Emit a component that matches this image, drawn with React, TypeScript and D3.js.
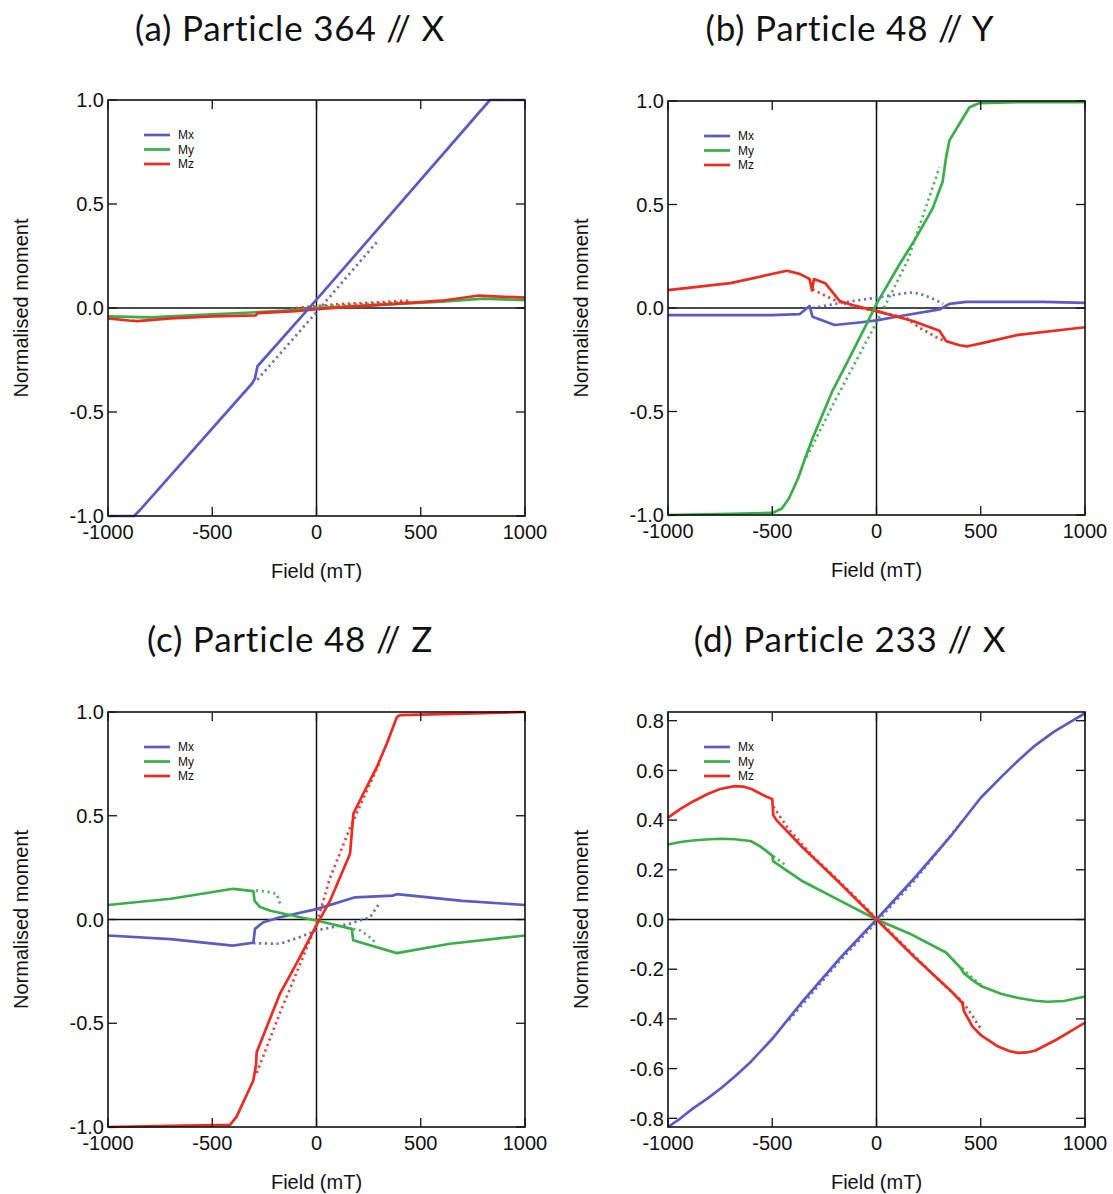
import React from "react";
import * as d3 from "d3";

type Pt = [number, number];

// ---------- tick values & labels ----------
const X_TICKS = [-1000, -500, 0, 500, 1000];
const Y_TICKS_UNIT = [-1, -0.5, 0, 0.5, 1];
const Y_TICKS_D = [-0.8, -0.6, -0.4, -0.2, 0, 0.2, 0.4, 0.6, 0.8];
const TITLES = ["(a) Particle 364 // X", "(b) Particle 48 // Y", "(c) Particle 48 // Z", "(d) Particle 233 // X"];
const LEGEND = ["Mx", "My", "Mz"];
const X_LABEL = "Field (mT)";
const Y_LABEL = "Normalised moment";

// ---------- (a) Particle 364 // X ----------
const aMx: Pt[] = [[-1000, -1], [-875, -1], [-850, -0.975], [-309, -0.363], [-296, -0.34], [-283, -0.28], [0, 0.04], [832, 1.0], [1000, 1.0]];
const aMxDot: Pt[] = [[-284, -0.345], [0, -0.02], [292, 0.32]];
const aMy: Pt[] = [[-1000, -0.04], [-800, -0.045], [-500, -0.03], [-283, -0.02], [-100, -0.01], [0, 0], [300, 0.015], [600, 0.03], [800, 0.045], [1000, 0.038]];
const aMyDot: Pt[] = [[-120, -0.005], [100, 0.012], [300, 0.022], [450, 0.03]];
const aMz: Pt[] = [[-1000, -0.05], [-900, -0.06], [-860, -0.063], [-700, -0.05], [-500, -0.04], [-290, -0.035], [-283, -0.025], [-100, -0.015], [0, -0.005], [300, 0.015], [600, 0.035], [780, 0.06], [850, 0.056], [1000, 0.05]];
const aMzDot: Pt[] = [[-100, 0.0], [100, 0.018], [300, 0.028], [450, 0.036]];

// ---------- (b) Particle 48 // Y ----------
const bMx: Pt[] = [[-1000, -0.034], [-500, -0.034], [-369, -0.03], [-321, 0.01], [-307, -0.042], [-201, -0.082], [-82, -0.07], [0, -0.06], [110, -0.04], [302, -0.007], [350, 0.02], [430, 0.03], [800, 0.03], [1000, 0.025]];
const bMxDot: Pt[] = [[-307, 0.0], [-163, 0.026], [0, 0.05], [158, 0.075], [206, 0.07], [260, 0.05], [320, 0.02]];
const bMy: Pt[] = [[-1000, -1.0], [-700, -0.995], [-500, -0.99], [-455, -0.97], [-420, -0.92], [-375, -0.82], [-340, -0.72], [-307, -0.63], [-211, -0.4], [-129, -0.24], [-49, -0.08], [0, 0.02], [110, 0.21], [190, 0.34], [269, 0.48], [317, 0.61], [334, 0.73], [350, 0.81], [398, 0.89], [446, 0.97], [494, 0.99], [700, 0.995], [1000, 0.995]];
const bMyDot: Pt[] = [[-335, -0.72], [-200, -0.45], [0, -0.07], [150, 0.23], [302, 0.68]];
const bMz: Pt[] = [[-1000, 0.086], [-700, 0.12], [-430, 0.18], [-369, 0.165], [-321, 0.14], [-309, 0.085], [-300, 0.14], [-246, 0.12], [-177, 0.034], [-100, 0.01], [0, -0.015], [174, -0.063], [302, -0.11], [334, -0.16], [398, -0.18], [437, -0.185], [507, -0.17], [680, -0.13], [1000, -0.093]];
const bMzDot: Pt[] = [[-307, 0.09], [-193, 0.034], [-82, 0.0], [0, -0.015], [142, -0.047], [206, -0.095], [302, -0.15], [334, -0.16]];

// ---------- (c) Particle 48 // Z ----------
const cMx: Pt[] = [[-1000, -0.077], [-700, -0.095], [-402, -0.126], [-303, -0.112], [-295, -0.045], [-255, -0.013], [-175, 0.011], [0, 0.05], [185, 0.107], [365, 0.115], [385, 0.122], [700, 0.09], [1000, 0.07]];
const cMxDot: Pt[] = [[-303, -0.114], [-175, -0.117], [-80, -0.085], [0, -0.053], [161, -0.02], [257, 0.011], [305, 0.083]];
const cMy: Pt[] = [[-1000, 0.07], [-700, 0.1], [-399, 0.148], [-303, 0.137], [-297, 0.09], [-271, 0.06], [-221, 0.042], [-79, 0.011], [0, -0.005], [169, -0.045], [176, -0.1], [385, -0.162], [640, -0.117], [1000, -0.077]];
const cMyDot: Pt[] = [[-290, 0.14], [-245, 0.135], [-191, 0.124], [-175, 0.076]];
const cMyDot2: Pt[] = [[176, -0.045], [209, -0.053], [250, -0.08], [289, -0.117]];
const cMz: Pt[] = [[-1000, -1.0], [-700, -0.995], [-415, -0.99], [-383, -0.95], [-303, -0.776], [-290, -0.7], [-287, -0.64], [-175, -0.357], [-95, -0.21], [4, -0.02], [65, 0.09], [161, 0.317], [177, 0.51], [224, 0.606], [289, 0.734], [337, 0.847], [385, 0.975], [400, 0.985], [800, 0.995], [1000, 1.0]];
const cMzDot: Pt[] = [[-287, -0.74], [-175, -0.45], [-60, -0.17], [0, -0.02], [65, 0.2], [160, 0.44], [300, 0.75]];

// ---------- (d) Particle 233 // X ----------
const dMx: Pt[] = [[-1000, -0.835], [-940, -0.8], [-880, -0.76], [-810, -0.72], [-740, -0.675], [-670, -0.625], [-600, -0.57], [-500, -0.48], [-360, -0.335], [-180, -0.16], [0, 0], [180, 0.165], [360, 0.34], [500, 0.49], [600, 0.575], [680, 0.64], [760, 0.7], [850, 0.755], [930, 0.795], [1000, 0.83]];
const dMxDot: Pt[] = [[-420, -0.405], [-180, -0.17], [0, -0.01], [180, 0.155], [420, 0.405]];
const dMy: Pt[] = [[-1000, 0.302], [-940, 0.312], [-882, 0.318], [-800, 0.323], [-743, 0.325], [-680, 0.323], [-604, 0.316], [-560, 0.295], [-535, 0.28], [-500, 0.257], [-495, 0.234], [-361, 0.157], [-187, 0.081], [0, 0], [160, -0.057], [333, -0.133], [403, -0.194], [420, -0.217], [470, -0.25], [507, -0.27], [600, -0.3], [680, -0.316], [760, -0.327], [820, -0.331], [900, -0.328], [1000, -0.31]];
const dMyDot: Pt[] = [[-495, 0.255], [-470, 0.24], [-430, 0.215]];
const dMyDot2: Pt[] = [[410, -0.195], [460, -0.235], [510, -0.27]];
const dMz: Pt[] = [[-1000, 0.41], [-940, 0.445], [-880, 0.475], [-810, 0.505], [-750, 0.525], [-680, 0.537], [-640, 0.535], [-600, 0.525], [-530, 0.495], [-500, 0.485], [-495, 0.42], [-480, 0.4], [-360, 0.295], [-180, 0.15], [0, 0], [180, -0.15], [360, -0.29], [411, -0.335], [420, -0.37], [460, -0.43], [500, -0.465], [580, -0.51], [640, -0.53], [680, -0.537], [720, -0.535], [760, -0.528], [860, -0.485], [930, -0.45], [1000, -0.415]];
const dMzDot: Pt[] = [[-495, 0.455], [-465, 0.417], [-422, 0.364], [-300, 0.25], [-150, 0.13], [0, 0.005], [150, -0.12], [300, -0.245], [411, -0.33], [450, -0.375], [500, -0.44]];

// ---------- styling ----------
const BLUE = "#5b5bc6";
const GREEN = "#38b048";
const RED = "#ef2a1f";
const TICK_FONT = "'Liberation Sans', Arial, Helvetica, sans-serif";
const TITLE_FONT = "Lato, 'Open Sans', sans-serif";

type Series = { data: Pt[]; color: string; dotted?: boolean };
type PanelCfg = {
  title: string;
  box: { left: number; right: number; top: number; bottom: number };
  titleX: number;
  titleY: number;
  yDomain: [number, number];
  yTicks: number[];
  series: Series[];
};

const panels: PanelCfg[] = [
  {
    title: TITLES[0], box: { left: 108, right: 525, top: 100, bottom: 516 }, titleX: 290, titleY: 41,
    yDomain: [-1, 1], yTicks: Y_TICKS_UNIT,
    series: [
      { data: aMyDot, color: GREEN, dotted: true }, { data: aMzDot, color: RED, dotted: true },
      { data: aMy, color: GREEN }, { data: aMz, color: RED },
      { data: aMxDot, color: BLUE, dotted: true }, { data: aMx, color: BLUE },
    ],
  },
  {
    title: TITLES[1], box: { left: 668, right: 1085, top: 101, bottom: 515 }, titleX: 850, titleY: 41,
    yDomain: [-1, 1], yTicks: Y_TICKS_UNIT,
    series: [
      { data: bMxDot, color: BLUE, dotted: true }, { data: bMzDot, color: RED, dotted: true }, { data: bMyDot, color: GREEN, dotted: true },
      { data: bMx, color: BLUE }, { data: bMz, color: RED }, { data: bMy, color: GREEN },
    ],
  },
  {
    title: TITLES[2], box: { left: 108, right: 525, top: 712, bottom: 1127 }, titleX: 290, titleY: 652,
    yDomain: [-1, 1], yTicks: Y_TICKS_UNIT,
    series: [
      { data: cMxDot, color: BLUE, dotted: true }, { data: cMyDot, color: GREEN, dotted: true }, { data: cMyDot2, color: GREEN, dotted: true },
      { data: cMzDot, color: RED, dotted: true },
      { data: cMx, color: BLUE }, { data: cMy, color: GREEN }, { data: cMz, color: RED },
    ],
  },
  {
    title: TITLES[3], box: { left: 668, right: 1085, top: 712, bottom: 1127 }, titleX: 850, titleY: 652,
    yDomain: [-0.835, 0.835], yTicks: Y_TICKS_D,
    series: [
      { data: dMxDot, color: BLUE, dotted: true }, { data: dMyDot, color: GREEN, dotted: true }, { data: dMyDot2, color: GREEN, dotted: true },
      { data: dMzDot, color: RED, dotted: true },
      { data: dMx, color: BLUE }, { data: dMy, color: GREEN }, { data: dMz, color: RED },
    ],
  },
];

const legendColors = [BLUE, GREEN, RED];

function fmtY(v: number) {
  const s = v.toFixed(1);
  return s === "-0.0" ? "0.0" : s;
}

function Panel({ cfg }: { cfg: PanelCfg }) {
  const { box } = cfg;
  const x = d3.scaleLinear().domain([-1000, 1000]).range([box.left, box.right]);
  const y = d3.scaleLinear().domain(cfg.yDomain).range([box.bottom, box.top]);
  const line = d3.line<Pt>().x((d) => x(d[0])).y((d) => y(d[1])).curve(d3.curveLinear);
  const tick = 9;
  const cx = (box.left + box.right) / 2;
  const cy = (box.top + box.bottom) / 2;
  return (
    <g>
      <text x={cfg.titleX} y={cfg.titleY} textAnchor="middle" fontFamily={TITLE_FONT} fontSize={35} letterSpacing={0.8} fill="#111">
        {cfg.title}
      </text>
      {/* zero lines */}
      <line x1={box.left} x2={box.right} y1={y(0)} y2={y(0)} stroke="#111" strokeWidth={1.5} />
      <line x1={x(0)} x2={x(0)} y1={box.top} y2={box.bottom} stroke="#111" strokeWidth={1.5} />
      {/* curves */}
      <g>
        {cfg.series.map((s, i) => (
          <path
            key={i}
            d={line(s.data) || ""}
            fill="none"
            stroke={s.color}
            strokeWidth={2.7}
            strokeDasharray={s.dotted ? "2.2,3.6" : undefined}
            strokeLinejoin="round"
            opacity={s.dotted ? 0.9 : 1}
          />
        ))}
      </g>
      {/* frame */}
      <rect x={box.left} y={box.top} width={box.right - box.left} height={box.bottom - box.top} fill="none" stroke="#111" strokeWidth={1.6} />
      {/* x ticks */}
      {X_TICKS.map((t) => (
        <g key={"x" + t}>
          <line x1={x(t)} x2={x(t)} y1={box.bottom} y2={box.bottom - tick} stroke="#111" strokeWidth={1.3} />
          <line x1={x(t)} x2={x(t)} y1={box.top} y2={box.top + tick} stroke="#111" strokeWidth={1.3} />
          <text x={x(t)} y={box.bottom + 23} textAnchor="middle" fontFamily={TICK_FONT} fontSize={20} fill="#111">
            {String(t)}
          </text>
        </g>
      ))}
      {/* y ticks */}
      {cfg.yTicks.map((t) => (
        <g key={"y" + t}>
          <line x1={box.left} x2={box.left + tick} y1={y(t)} y2={y(t)} stroke="#111" strokeWidth={1.3} />
          <line x1={box.right} x2={box.right - tick} y1={y(t)} y2={y(t)} stroke="#111" strokeWidth={1.3} />
          <text x={box.left - 4} y={y(t)} dy="0.36em" textAnchor="end" fontFamily={TICK_FONT} fontSize={20} fill="#111">
            {fmtY(t)}
          </text>
        </g>
      ))}
      {/* axis labels */}
      <text x={cx} y={box.bottom + 62} textAnchor="middle" fontFamily={TICK_FONT} fontSize={20} fill="#111">
        {X_LABEL}
      </text>
      <text transform={`translate(${box.left - 80},${cy}) rotate(-90)`} textAnchor="middle" fontFamily={TICK_FONT} fontSize={20} fill="#111">
        {Y_LABEL}
      </text>
      {/* legend */}
      {LEGEND.map((name, i) => {
        const ly = box.top + 35 + i * 14.5;
        return (
          <g key={name}>
            <line x1={box.left + 36} x2={box.left + 62} y1={ly} y2={ly} stroke={legendColors[i]} strokeWidth={2.7} />
            <text x={box.left + 70} y={ly} dy="0.36em" fontFamily={TICK_FONT} fontSize={12} fill="#111">
              {name}
            </text>
          </g>
        );
      })}
    </g>
  );
}

export default function App() {
  return (
    <div style={{ position: "absolute", left: 0, top: 0 }}>
      <svg width={1113} height={1194} viewBox="0 0 1113 1194" style={{ display: "block", background: "#fff" }}>
        <rect x={0} y={0} width={1113} height={1194} fill="#fff" />
        {panels.map((p, i) => (
          <Panel key={i} cfg={p} />
        ))}
      </svg>
    </div>
  );
}
